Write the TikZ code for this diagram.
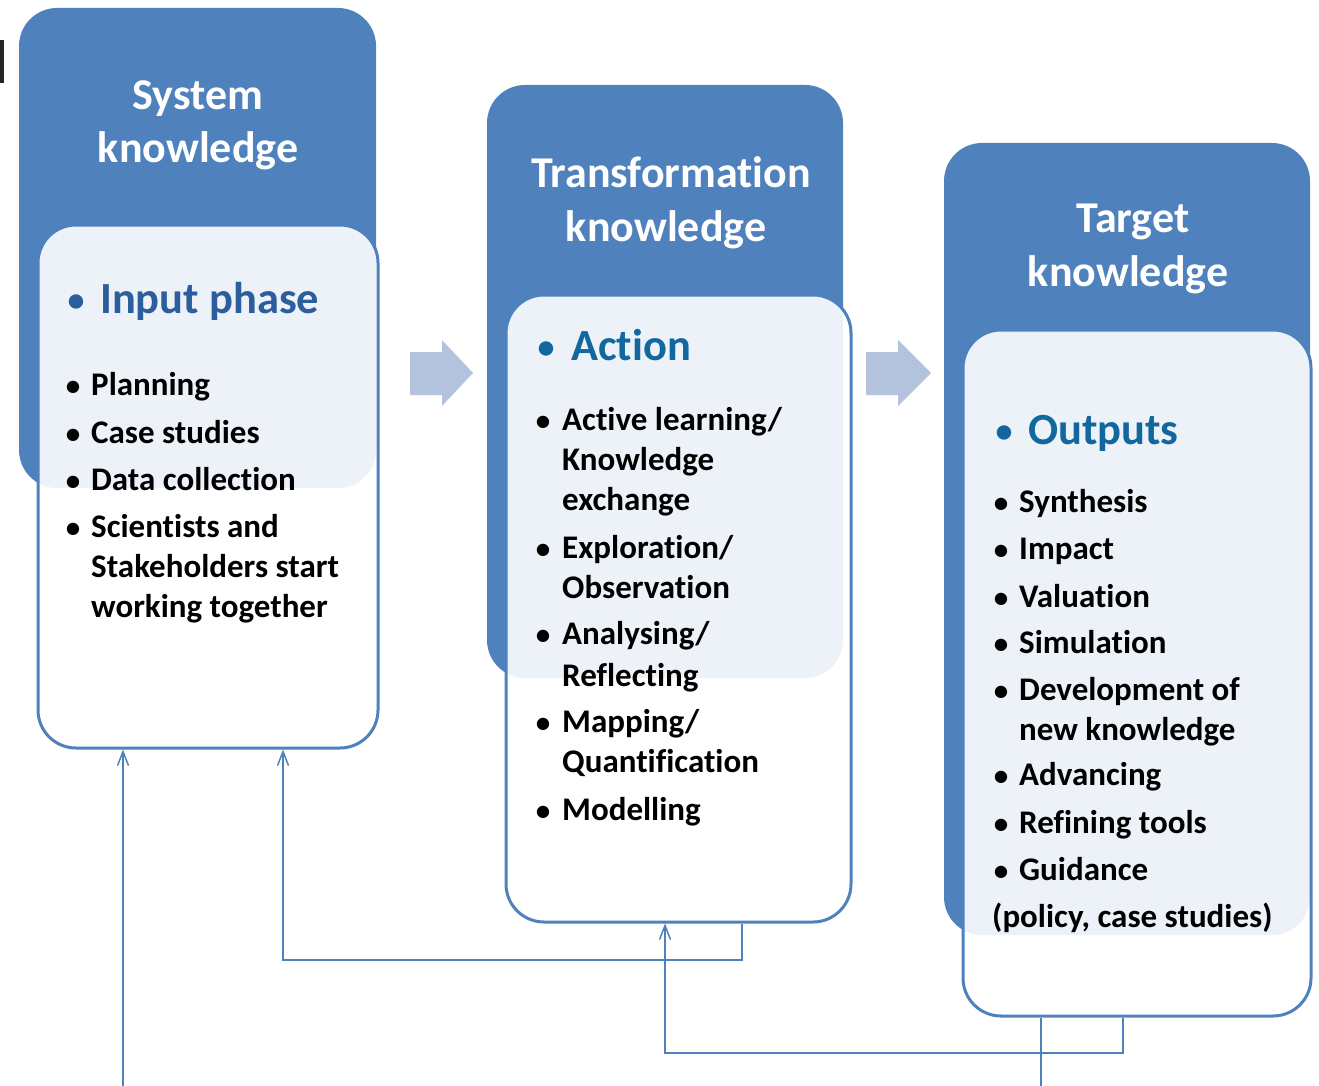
\documentclass[tikz,border=0pt]{standalone}
\usepackage{fontspec}
\setmainfont{Carlito}[Ligatures=NoCommon]
\usetikzlibrary{arrows.meta}

\definecolor{kblue}{HTML}{4F81BD}
\definecolor{karrow}{HTML}{B3C3DE}
\definecolor{kphase}{HTML}{2C5D9C}
\definecolor{kact}{HTML}{11679E}

\begin{document}
\begin{tikzpicture}[x=1pt,y=-1pt,
    headbox/.style={rectangle,rounded corners=38pt,fill=kblue,inner sep=0},
    listbox/.style={rectangle,rounded corners=38pt,draw=kblue,line width=3pt,fill=white,fill opacity=0.9,inner sep=0},
    title/.style={text=white,font=\bfseries\fontsize{44}{53}\selectfont,anchor=base,inner sep=0},
    phase/.style={font=\bfseries\fontsize{44.5}{53}\selectfont,anchor=base west,inner sep=0},
    bigdot/.style={font=\bfseries\fontsize{34}{53}\selectfont,anchor=base,inner sep=0},
    dot/.style={font=\bfseries\fontsize{29}{40}\selectfont,anchor=base,inner sep=0},
    itm/.style={font=\bfseries\fontsize{33}{40}\selectfont,anchor=base west,inner sep=0},
    feed/.style={draw=kblue,line width=1.5pt,-{Straight Barb[length=14pt,width=11pt]}}]
    \useasboundingbox (0,0) rectangle (1319,1086);

    \fill[black!85] (0,40) rectangle (4,83);

    % header blocks
    \node[headbox,minimum width=357pt,minimum height=480pt] (sys) at (197.5,248) {};
    \node[headbox,minimum width=356pt,minimum height=593pt] (trans) at (665,381.5) {};
    \node[headbox,minimum width=366pt,minimum height=792pt] (targ) at (1127,539) {};

    \node[title] (sysA) at (198,110) {System};
    \node[title] (sysB) at (198,163) {knowledge};
    \node[title] (transA) at (671,188) {Transformation};
    \node[title] (transB) at (666,241) {knowledge};
    \node[title] (targA) at (1133,233) {Target};
    \node[title] (targB) at (1128,286) {knowledge};

    % list boxes
    \node[listbox,minimum width=340pt,minimum height=523pt] (sysbox) at (208,486.5) {};
    \node[listbox,minimum width=345pt,minimum height=627pt] (transbox) at (678.5,608.5) {};
    \node[listbox,minimum width=348pt,minimum height=686pt] (targbox) at (1137,673) {};

    \node[bigdot,text=kphase] (sysdot) at (76,311) {•};
    \node[phase,text=kphase] (sysph) at (100,313) {Input phase};
    \node[bigdot,text=kact] (transdot) at (546,358) {•};
    \node[phase,text=kact] (transph) at (571,360) {Action};
    \node[bigdot,text=kact] (targdot) at (1004,442) {•};
    \node[phase,text=kact] (targph) at (1028,444) {Outputs};

    % items
    \foreach \y/\t [count=\i] in {395/Planning,443/Case studies,490/Data collection,537/Scientists and}{
        \node[dot] (sb\i) at (73,\y) {•};
        \node[itm] (si\i) at (91,\y) {\t};
    }
    \node[itm] (si5) at (91,577) {Stakeholders start};
    \node[itm] (si6) at (91,617) {working together};

    \foreach \y/\t [count=\i] in {430/{Active learning/},558/{Exploration/},644/{Analysing/},732/{Mapping/},820/Modelling}{
        \node[dot] (tb\i) at (543,\y) {•};
        \node[itm] (ti\i) at (562,\y) {\t};
    }
    \foreach \y/\t [count=\i] in {470/Knowledge,510/exchange,598/Observation,686/Reflecting,772/Quantification}{
        \node[itm] (tc\i) at (562,\y) {\t};
    }

    \foreach \y/\t [count=\i] in {512/Synthesis,559/Impact,607/Valuation,653/Simulation,700/Development of,785/Advancing,833/Refining tools,880/Guidance}{
        \node[dot] (gb\i) at (1001,\y) {•};
        \node[itm] (gi\i) at (1019,\y) {\t};
    }
    \node[itm] (gc1) at (1019,740) {new knowledge};
    \node[itm] (gc2) at (992,927) {(policy, case studies)};

    % block arrows
    \fill[karrow] (410,352) -- (442,352) -- (442,340) -- (473,373) -- (442,406) -- (442,395) -- (410,395) -- cycle;
    \fill[karrow] (866,352) -- (898,352) -- (898,340) -- (931,373) -- (898,406) -- (898,395) -- (866,395) -- cycle;

    % feedback lines
    \coordinate (fa) at (123,1086);
    \coordinate (fb) at (1041,1086);
    \coordinate (ka) at (742,960);
    \coordinate (kb) at (283,960);
    \coordinate (kc) at (1123,1053);
    \coordinate (kd) at (665,1053);
    \draw[feed] (fa) -- (fa |- sysbox.south);
    \draw[feed] (ka |- transbox.south) -- (ka) -- (kb) -- (kb |- sysbox.south);
    \draw[feed] (kc |- targbox.south) -- (kc) -- (kd) -- (kd |- transbox.south);
    \draw[kblue,line width=1.5pt] (fb |- targbox.south) -- (fb);
\end{tikzpicture}
\end{document}
